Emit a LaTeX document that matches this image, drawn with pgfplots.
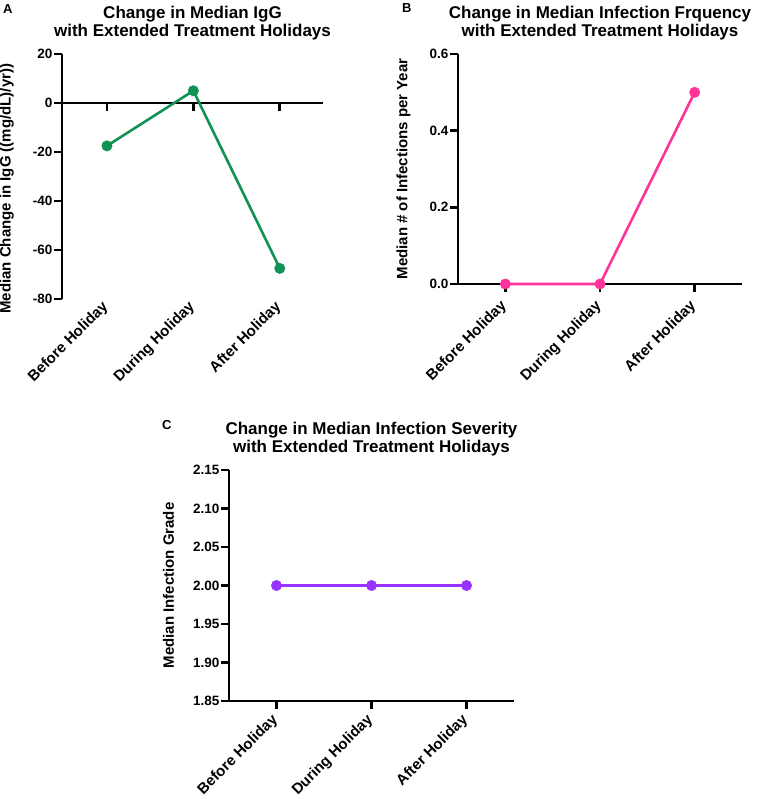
\documentclass[border=0pt]{standalone}
\usepackage{pgfplots}
\pgfplotsset{compat=1.18}
\usepackage{fontspec}
\setmainfont{Liberation Sans}

\definecolor{cgreen}{RGB}{16,146,84}
\definecolor{cpink}{RGB}{255,51,153}
\definecolor{cpurple}{RGB}{153,51,255}

\pgfplotsset{
  gp/.style={
    scale only axis,
    clip=false,
    /pgf/number format/assume math mode=true,
    axis line style={line width=2.8pt, black},
    tick style={line width=2.8pt, black},
    major tick length=8pt,
    tick align=outside,
    xmin=-0.5, xmax=2.5,
    xtick={0,1,2},
    xticklabels={Before Holiday, During Holiday, After Holiday},
    x tick label style={font=\fontsize{15}{17}\selectfont\bfseries, xshift=-6pt, rotate=45, anchor=north east, inner sep=1pt},
    y tick label style={font=\fontsize{13.5}{15}\selectfont\bfseries, inner sep=1.5pt},
    xticklabel shift=5pt,
    ylabel style={font=\fontsize{15}{17}\selectfont\bfseries, at={(ticklabel cs:0.5,14pt)}},
    title style={font=\fontsize{17}{18.5}\selectfont\bfseries, align=center, yshift=4pt},
  },
  pt/.style={#1, line width=2.6pt, mark=*, mark size=5.2pt, mark options={fill=#1, draw=#1, line width=0.5pt}},
}

\begin{document}
\begin{tikzpicture}
\useasboundingbox (0,0) rectangle (757pt,-799pt);

% panel letters
\node[anchor=north west, inner sep=0pt, font=\fontsize{13}{15}\selectfont\bfseries] at (3pt,-4pt) {A};
\node[anchor=north west, inner sep=0pt, font=\fontsize{13}{15}\selectfont\bfseries] at (402pt,-3pt) {B};
\node[anchor=north west, inner sep=0pt, font=\fontsize{13}{15}\selectfont\bfseries] at (162pt,-420pt) {C};

% A: y axis, labels and title
\begin{axis}[gp, at={(62pt,-54pt)}, anchor=north west,
  width=261pt, height=245pt,
  xmin=-0.52, xmax=2.5,
  ymin=-80, ymax=20, ytick={-80,-60,-40,-20,0,20},
  axis y line*=left, axis x line*=bottom,
  x axis line style={draw=none}, xtick style={draw=none},
  xticklabel shift=-9pt,
  ylabel style={at={(ticklabel cs:0.45,14pt)}},
  ylabel={Median Change in IgG ((mg/dL)/yr))},
  title={Change in Median IgG\\with Extended Treatment Holidays}]
\end{axis}
% A: zero line with ticks and data
\begin{axis}[scale only axis, clip=false, at={(62pt,-54pt)}, anchor=north west,
  width=261pt, height=245pt,
  xmin=-0.52, xmax=2.5, ymin=-80, ymax=20,
  axis x line*=middle, axis y line=none,
  axis line style={line width=2.8pt, black},
  tick style={line width=2.8pt, black},
  major tick length=8pt, tick align=outside,
  xtick={0,1,2}, xticklabels={}, ytick=\empty]
\addplot[pt=cgreen] coordinates {(0,-17.5) (1,5) (2,-67.5)};
\end{axis}

% B
\begin{axis}[gp, at={(458pt,-54pt)}, anchor=north west,
  width=284pt, height=230pt,
  ymin=0, ymax=0.6, ytick={0,0.2,0.4,0.6},
  yticklabel style={/pgf/number format/.cd, fixed, fixed zerofill, precision=1},
  axis lines*=left,
  ylabel={Median \# of Infections per Year},
  title={Change in Median Infection Frquency\\with Extended Treatment Holidays}]
\addplot[pt=cpink] coordinates {(0,0) (1,0) (2,0.5)};
\end{axis}

% C
\begin{axis}[gp, at={(229pt,-470pt)}, anchor=north west,
  width=285pt, height=231pt,
  ymin=1.85, ymax=2.15, ytick={1.85,1.90,1.95,2.00,2.05,2.10,2.15},
  yticklabel style={/pgf/number format/.cd, fixed, fixed zerofill, precision=2},
  axis lines*=left,
  xticklabel shift=2pt,
  ylabel={Median Infection Grade},
  title={Change in Median Infection Severity\\with Extended Treatment Holidays}]
\addplot[pt=cpurple] coordinates {(0,2) (1,2) (2,2)};
\end{axis}
\end{tikzpicture}
\end{document}
